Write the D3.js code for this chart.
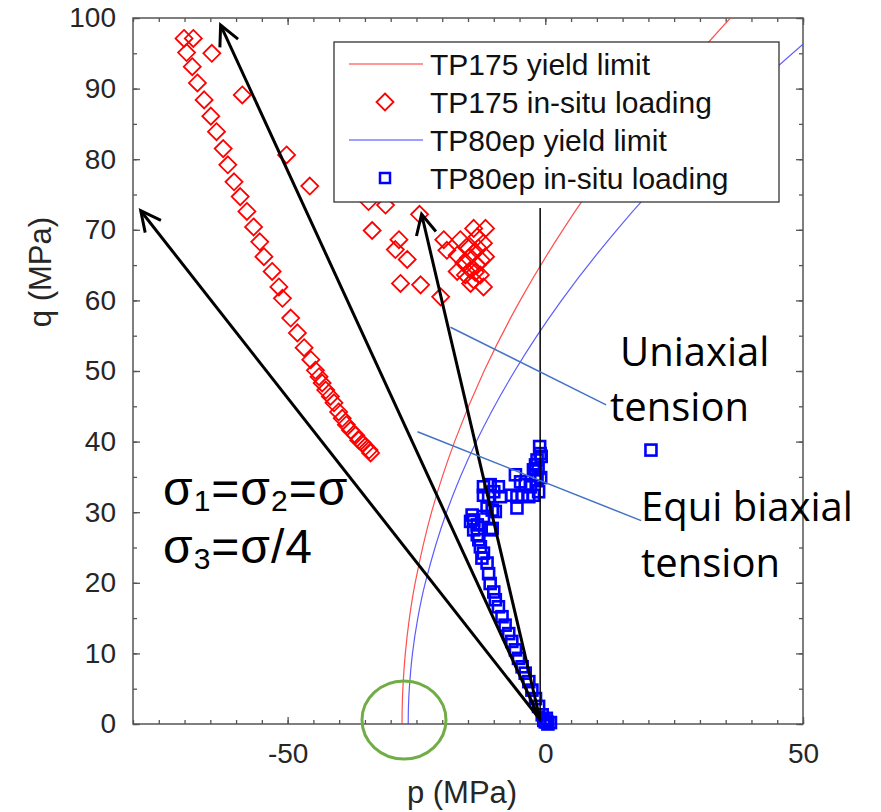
<!DOCTYPE html>
<html>
<head>
  <meta charset="utf-8">
  <title>p-q plot: yield limits and in-situ loading</title>
  <script src="https://cdn.jsdelivr.net/npm/d3@7"></script>
  <style>
    body { margin: 0; background: #fff; }
    svg { display: block; }
  </style>
</head>
<body>
  <main id="container"></main>
  <script>
    // yield limits as [p, q] (MPa)
    const tp175Limit = [[-27.8, 0], [-27.76, 2.5], [-27.64, 5], [-27.16, 10], [-26.37, 15], [-25.25, 20],
      [-22.07, 30], [-17.6, 40], [-11.88, 50], [-4.87, 60], [3.41, 70], [12.96, 80], [23.8, 90], [35.9, 100]];
    const tp80Limit = [[-26.6, 0], [-26.55, 2.5], [-26.39, 5], [-25.77, 10], [-24.74, 15], [-23.29, 20],
      [-19.16, 30], [-13.38, 40], [-5.94, 50], [3.15, 60], [13.9, 70], [26.29, 80], [40.34, 90], [50, 96.3], [56, 100]];

    // in-situ loading points [p, q]
    const tp175Loading = [
      [-70.1, 97.1], [-68.3, 97.1], [-69.6, 95.1], [-68.5, 93.1], [-67.5, 90.8], [-66.2, 88.4], [-64.9, 86.1],
      [-63.8, 83.9], [-62.5, 81.5], [-61.6, 79.2], [-60.4, 76.8], [-59.2, 74.7], [-57.9, 72.6], [-56.6, 70.4],
      [-55.4, 68.3], [-54.6, 66.2], [-53.0, 64.1], [-51.7, 61.9], [-51.0, 60.3], [-49.4, 57.5], [-48.1, 55.4],
      [-46.8, 53.3], [-45.5, 51.6], [-44.6, 50.1], [-43.9, 49.2], [-43.3, 48.3], [-42.6, 47.3], [-41.7, 46.4],
      [-41.0, 45.5], [-40.1, 44.2], [-39.4, 43.3], [-38.6, 42.4], [-37.8, 41.6], [-36.8, 40.9], [-36.2, 40.2],
      [-35.5, 39.8], [-34.9, 39.3], [-34.2, 38.8], [-33.9, 38.4],
      [-64.7, 95.0], [-58.8, 89.1], [-50.2, 80.6], [-45.7, 76.2], [-34.3, 74.0], [-31.0, 73.5], [-24.4, 72.2],
      [-33.6, 69.9], [-28.4, 68.6], [-29.1, 67.2], [-26.8, 65.8], [-28.1, 62.4], [-24.2, 62.2], [-20.3, 60.5],
      [-19.7, 68.6], [-19.1, 67.1], [-16.5, 68.6], [-13.9, 70.2], [-11.6, 70.2], [-13.2, 69.0], [-12.0, 68.1],
      [-15.2, 67.6], [-17.1, 66.4], [-13.9, 66.7], [-11.6, 66.2], [-15.8, 65.3], [-13.2, 65.0], [-14.5, 64.3],
      [-17.1, 64.1], [-15.5, 63.6], [-12.6, 63.6], [-14.5, 62.4], [-12.0, 61.9], [-13.9, 62.9], [-13.0, 67.4],
      [-14.9, 66.0], [-12.4, 65.7], [-13.6, 64.0]
    ];
    const tp80Loading = [
      [-1.1, 39.3], [-1.0, 38.3], [-1.6, 37.4], [-1.9, 36.7], [-2.3, 36.0], [-1.9, 35.3], [-1.6, 34.6],
      [-5.8, 35.3], [-4.8, 34.3], [-3.9, 33.9], [-2.9, 33.6], [-1.3, 32.9], [-2.3, 32.4], [-3.2, 32.2],
      [-4.5, 32.4], [-5.5, 32.2], [-6.5, 32.4], [-5.5, 30.6], [-9.1, 33.6], [-12.0, 33.6], [-10.7, 33.9],
      [-10.0, 32.9], [-12.0, 32.4], [-8.7, 32.2], [-11.0, 32.2], [-11.3, 30.6], [-9.7, 30.1], [-14.2, 29.6],
      [-12.0, 29.4], [-13.9, 28.9], [-14.5, 28.7], [-13.2, 28.2], [-10.3, 27.7], [-13.9, 27.5], [-13.2, 26.8],
      [-12.9, 26.1], [-12.6, 25.1], [-12.0, 24.2], [-12.3, 23.5], [-11.3, 22.8], [-11.0, 21.3], [-10.7, 19.9],
      [-10.0, 18.7], [-9.7, 17.6], [-9.1, 16.6], [-8.4, 15.2], [-7.8, 14.0], [-7.1, 12.8], [-6.5, 11.7],
      [-5.8, 10.5], [-5.2, 9.3], [-4.5, 8.1], [-3.9, 7.2], [-3.2, 6.0], [-2.6, 4.8], [-1.9, 3.6], [-1.3, 2.5],
      [-0.6, 1.3], [0, 0.3], [0.3, 0.3], [0.5, 0], [1.0, 0.2], [0.2, 0.8], [-0.3, 0.5],
      [-10.7, 27.5], [-10.3, 30.3], [-0.8, 37.9], [-1.4, 36.2], [-0.9, 34.9], [20.5, 38.8]
    ];

    const legendNames = ["TP175 yield limit", "TP175 in-situ loading", "TP80ep yield limit", "TP80ep in-situ loading"];

    const xTicks = [-50, 0, 50];
    const yTicks = [0, 10, 20, 30, 40, 50, 60, 70, 80, 90, 100];

    // annotations (data coordinates)
    const arrowOrigin = [-1.0, 0.6];
    const arrowTips = [[-78.5, 72.7], [-63.0, 99.0], [-24.0, 72.2]];
    const vertLine = [[-1.0, 0.3], [-1.0, 73.1]];
    const pointers = [[[-18.4, 56.2], [11.8, 45.2]], [[-24.8, 41.4], [18.6, 28.8]]];

    // setup
    const vizWidth = 881, vizHeight = 812;
    const plotLeft = 133, plotRight = 803, plotTop = 18, plotBottom = 724;

    const svg = d3.select("#container").append("svg")
      .attr("width", vizWidth)
      .attr("height", vizHeight);

    const x = d3.scaleLinear().domain([-80, 50]).range([plotLeft, plotRight]);
    const y = d3.scaleLinear().domain([0, 100]).range([plotBottom, plotTop]);

    svg.append("clipPath").attr("id", "plot-clip")
      .append("rect")
      .attr("x", plotLeft).attr("y", plotTop)
      .attr("width", plotRight - plotLeft).attr("height", plotBottom - plotTop);

    // axes, inward ticks on all four sides
    const minorX = d3.range(-80, 51, 5);
    const minorY = d3.range(0, 101, 5);
    const tickFont = "Liberation Sans, Arial, sans-serif";
    const plain = d => String(d);

    function styleAxis(g) {
      g.select(".domain").remove();
      g.selectAll("line").attr("stroke", "#555").attr("stroke-width", 1.3);
      g.selectAll("text").attr("fill", "#262626").style("font-size", "28px").style("font-family", tickFont);
    }

    svg.append("g").attr("transform", `translate(0,${plotBottom})`)
      .call(d3.axisBottom(x).tickValues(minorX).tickSize(-4).tickFormat("")).call(styleAxis);
    svg.append("g").attr("transform", `translate(0,${plotBottom})`)
      .call(d3.axisBottom(x).tickValues(xTicks).tickSize(-7).tickPadding(19).tickFormat(plain)).call(styleAxis);
    svg.append("g").attr("transform", `translate(0,${plotTop})`)
      .call(d3.axisTop(x).tickValues(minorX).tickSize(-4).tickFormat("")).call(styleAxis);
    svg.append("g").attr("transform", `translate(0,${plotTop})`)
      .call(d3.axisTop(x).tickValues(xTicks).tickSize(-7).tickFormat("")).call(styleAxis);

    svg.append("g").attr("transform", `translate(${plotLeft},0)`)
      .call(d3.axisLeft(y).tickValues(minorY).tickSize(-4).tickFormat("")).call(styleAxis);
    svg.append("g").attr("transform", `translate(${plotLeft},0)`)
      .call(d3.axisLeft(y).tickValues(yTicks).tickSize(-7).tickPadding(17).tickFormat(plain)).call(styleAxis);
    svg.append("g").attr("transform", `translate(${plotRight},0)`)
      .call(d3.axisRight(y).tickValues(minorY).tickSize(-4).tickFormat("")).call(styleAxis);
    svg.append("g").attr("transform", `translate(${plotRight},0)`)
      .call(d3.axisRight(y).tickValues(yTicks).tickSize(-7).tickFormat("")).call(styleAxis);

    svg.append("rect")
      .attr("x", plotLeft).attr("y", plotTop)
      .attr("width", plotRight - plotLeft).attr("height", plotBottom - plotTop)
      .attr("fill", "none").attr("stroke", "#555").attr("stroke-width", 1.5);

    // axis titles
    svg.append("text")
      .attr("x", 462).attr("y", 803)
      .attr("text-anchor", "middle")
      .attr("fill", "#262626")
      .style("font-family", tickFont).style("font-size", "31px")
      .text("p (MPa)");
    svg.append("text")
      .attr("transform", "translate(51,272) rotate(-90)")
      .attr("text-anchor", "middle")
      .attr("fill", "#262626")
      .style("font-family", tickFont).style("font-size", "31px")
      .text("q (MPa)");

    // yield curves
    const line = d3.line().x(d => x(d[0])).y(d => y(d[1])).curve(d3.curveCatmullRom);
    const curves = svg.append("g").attr("clip-path", "url(#plot-clip)");
    curves.append("path").datum(tp175Limit)
      .attr("d", line).attr("fill", "none").attr("stroke", "#ff3030").attr("stroke-width", 1.2).attr("opacity", 0.85);
    curves.append("path").datum(tp80Limit)
      .attr("d", line).attr("fill", "none").attr("stroke", "#4040ff").attr("stroke-width", 1.2).attr("opacity", 0.85);

    // markers
    const diamond = "M0,-8.5L8.5,0L0,8.5L-8.5,0Z";
    svg.append("g").selectAll("path")
      .data(tp175Loading)
      .join("path")
      .attr("transform", d => `translate(${x(d[0])},${y(d[1])})`)
      .attr("d", diamond)
      .attr("fill", "none").attr("stroke", "#ff0000").attr("stroke-width", 1.8);

    const sq = 11;
    svg.append("g").selectAll("rect")
      .data(tp80Loading)
      .join("rect")
      .attr("x", d => x(d[0]) - sq / 2)
      .attr("y", d => y(d[1]) - sq / 2)
      .attr("width", sq).attr("height", sq)
      .attr("fill", "none").attr("stroke", "#0000ff").attr("stroke-width", 2.6);

    // legend
    const legend = svg.append("g");
    legend.append("rect")
      .attr("x", 334).attr("y", 42).attr("width", 445).attr("height", 160)
      .attr("fill", "#fff").attr("stroke", "#333").attr("stroke-width", 1.3);
    const rowY = [64, 102, 140, 178];
    legend.selectAll("text")
      .data(legendNames)
      .join("text")
      .attr("x", 430).attr("y", (d, i) => rowY[i] + 11)
      .attr("fill", "#111")
      .style("font-family", tickFont).style("font-size", "30px")
      .text(d => d);
    legend.append("line").attr("x1", 349).attr("x2", 423).attr("y1", rowY[0]).attr("y2", rowY[0])
      .attr("stroke", "#ff3030").attr("stroke-width", 1.2);
    legend.append("line").attr("x1", 349).attr("x2", 423).attr("y1", rowY[2]).attr("y2", rowY[2])
      .attr("stroke", "#4040ff").attr("stroke-width", 1.2);
    legend.append("path").attr("transform", `translate(385,${rowY[1]})`).attr("d", diamond)
      .attr("fill", "none").attr("stroke", "#ff0000").attr("stroke-width", 1.8);
    legend.append("rect").attr("x", 385 - 5).attr("y", rowY[3] - 5).attr("width", 10).attr("height", 10)
      .attr("fill", "none").attr("stroke", "#0000ff").attr("stroke-width", 2.5);

    // annotations
    svg.append("defs").append("marker")
      .attr("id", "open-arrow")
      .attr("markerUnits", "userSpaceOnUse")
      .attr("viewBox", "-24 -14 28 28")
      .attr("markerWidth", 28).attr("markerHeight", 28)
      .attr("refX", 0).attr("refY", 0)
      .attr("orient", "auto")
      .append("path")
      .attr("d", "M-20,-10L0,0L-20,10")
      .attr("fill", "none").attr("stroke", "#000").attr("stroke-width", 3);

    svg.append("line")
      .attr("x1", x(vertLine[0][0])).attr("y1", y(vertLine[0][1]))
      .attr("x2", x(vertLine[1][0])).attr("y2", y(vertLine[1][1]))
      .attr("stroke", "#000").attr("stroke-width", 1.5);

    svg.append("g").selectAll("line")
      .data(arrowTips)
      .join("line")
      .attr("x1", x(arrowOrigin[0])).attr("y1", y(arrowOrigin[1]))
      .attr("x2", d => x(d[0])).attr("y2", d => y(d[1]))
      .attr("stroke", "#000").attr("stroke-width", 3)
      .attr("marker-end", "url(#open-arrow)");

    svg.append("g").selectAll("line")
      .data(pointers)
      .join("line")
      .attr("x1", d => x(d[0][0])).attr("y1", d => y(d[0][1]))
      .attr("x2", d => x(d[1][0])).attr("y2", d => y(d[1][1]))
      .attr("stroke", "#4472c4").attr("stroke-width", 1.5);

    svg.append("ellipse")
      .attr("cx", 404).attr("cy", 720).attr("rx", 42).attr("ry", 39)
      .attr("fill", "none").attr("stroke", "#70ad47").attr("stroke-width", 3);

    const noteFont = "Open Sans, Noto Sans, sans-serif";
    const notes = [
      { t: "Uniaxial", x: 620, y: 366 },
      { t: "tension", x: 610, y: 421 },
      { t: "Equi biaxial", x: 641, y: 521 },
      { t: "tension", x: 641, y: 577 }
    ];
    svg.append("g").selectAll("text")
      .data(notes)
      .join("text")
      .attr("x", d => d.x).attr("y", d => d.y)
      .attr("fill", "#000")
      .style("font-family", noteFont).style("font-size", "40px")
      .text(d => d.t);

    // σ lines: main glyphs with lowered subscripts (compact font metrics keep the two rows apart)
    function sigmaLine(parts, yy) {
      const t = svg.append("text")
        .attr("x", 163).attr("y", yy)
        .attr("fill", "#000")
        .style("font-family", "Liberation Sans, Arial, sans-serif").style("font-size", "48px")
        .style("letter-spacing", "1px");
      let shifted = false;
      parts.forEach(p => {
        const span = t.append("tspan").text(p.sub || p.txt);
        if (p.sub) {
          span.attr("dy", 6).style("font-size", "30px");
          shifted = true;
        } else if (shifted) {
          span.attr("dy", -6);
          shifted = false;
        }
      });
    }
    sigmaLine([{ txt: "σ" }, { sub: "1" }, { txt: "=σ" }, { sub: "2" }, { txt: "=σ" }], 505);
    sigmaLine([{ txt: "σ" }, { sub: "3" }, { txt: "=σ/4" }], 563);
  </script>
</body>
</html>
